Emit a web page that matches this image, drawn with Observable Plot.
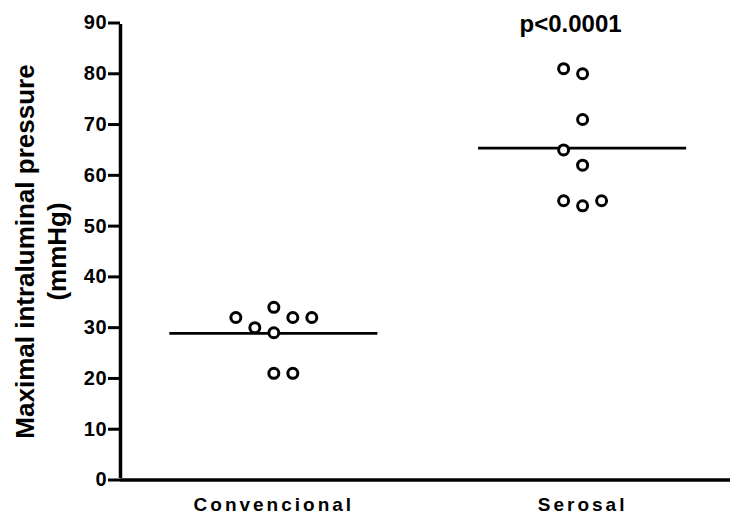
<!DOCTYPE html>
<html>
<head>
<meta charset="utf-8">
<script src="https://cdn.jsdelivr.net/npm/d3@7"></script>
<script src="https://cdn.jsdelivr.net/npm/@observablehq/plot@0.6"></script>
<style>
  html, body { margin: 0; padding: 0; background: #fff; }
  #chart svg { display: block; }
  #chart g[aria-label="x-axis tick label"] text { letter-spacing: 3px; }
  #chart g[aria-label="y-axis tick label"] text { letter-spacing: 0.8px; }
</style>
</head>
<body>
<div id="chart"></div>
<script>
// ---- data ----
const groups = ["Convencional", "Serosal"];
const convencionalValues = [32, 30, 34, 29, 32, 32, 21, 21];
const convencionalSlots  = [-2, -1, 0, 0, 1, 2, 0, 1];   // side-by-side column of each point
const serosalValues = [81, 80, 71, 65, 62, 55, 54, 55];
const serosalSlots  = [-1, 0, 0, -1, 0, -1, 0, 1];
const yTicks = [0, 10, 20, 30, 40, 50, 60, 70, 80, 90];
const yLabel = "Maximal intraluminal pressure\n(mmHg)";
const pText = "p<0.0001";

// ---- build table ----
const seriesValues = [convencionalValues, serosalValues];
const seriesSlots = [convencionalSlots, serosalSlots];
const points = [];
seriesValues.forEach((vals, g) => vals.forEach((v, i) => points.push({g, value: v, slot: seriesSlots[g][i]})));
const means = seriesValues.map((vals, g) => ({g, mean: d3.mean(vals)}));

const slotStep = 0.0615;
const halfLine = 0.337;
const font = "'Liberation Sans', Arial, Helvetica, sans-serif";

const chart = Plot.plot({
  width: 730,
  height: 515,
  marginTop: 22.5,
  marginBottom: 35.5,
  marginLeft: 120,
  marginRight: 0,
  style: {fontFamily: font, background: "#fff", color: "#000", overflow: "visible"},
  x: {domain: [-0.4966, 1.479], axis: null},
  y: {domain: [0, 90], axis: null},
  marks: [
    // y axis ticks + labels
    Plot.axisY({ticks: yTicks, tickSize: 12, tickPadding: 1, strokeWidth: 3, fontSize: 20, fontWeight: "bold", label: null}),
    // x axis labels
    Plot.axisX({ticks: [0, 1], tickFormat: i => groups[i], tickSize: 0, tickPadding: 17, fontSize: 19, fontWeight: "bold", label: null}),
    // axis lines
    Plot.ruleX([-0.4966], {y1: 0, y2: 90, stroke: "#000", strokeWidth: 3.5, insetTop: -1.5, insetBottom: -1.5}),
    Plot.ruleY([0], {stroke: "#000", strokeWidth: 3.5}),
    // mean lines
    Plot.ruleY(means, {y: "mean", x1: d => d.g - halfLine, x2: d => d.g + halfLine, stroke: "#000", strokeWidth: 2.8}),
    // points
    Plot.dot(points, {x: d => d.g + d.slot * slotStep, y: "value", r: 5, stroke: "#000", strokeWidth: 3, fill: "#fff"}),
    // y label
    Plot.text([yLabel], {frameAnchor: "left", textAnchor: "middle", rotate: -90, dx: -81, lineHeight: 1.23, fontSize: 26, fontWeight: "bold", fill: "#000"}),
    // p value
    Plot.text([pText], {x: 1, y: 90, dx: -12, dy: 1, fontSize: 24, fontWeight: "bold", fill: "#000"})
  ]
});
document.getElementById("chart").appendChild(chart);
</script>
</body>
</html>
